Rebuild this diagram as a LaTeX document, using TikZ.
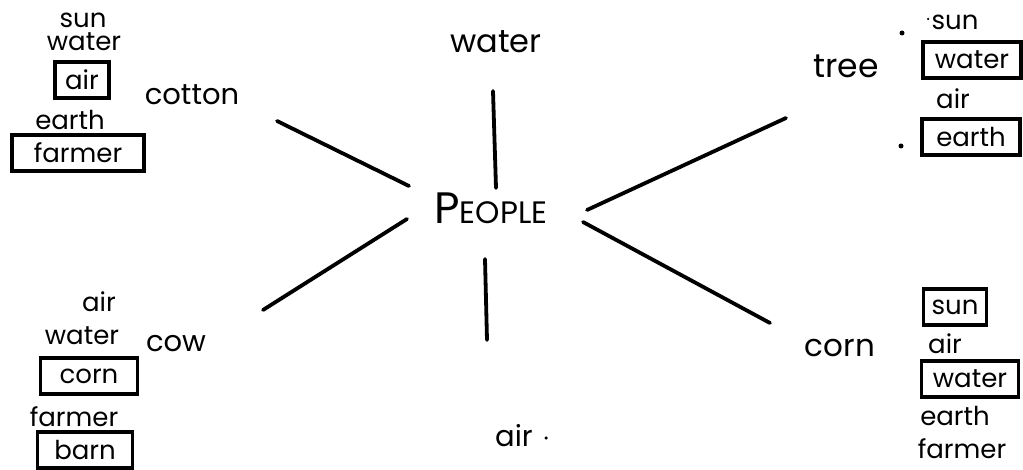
\documentclass[tikz,border=0pt]{standalone}
\usepackage{fontspec}
\setmainfont{Poppins}
\begin{document}
\begin{tikzpicture}[x=1pt,y=-1pt,
  big/.style={font=\fontsize{29}{29}\selectfont, inner sep=0pt},
  small/.style={font=\fontsize{26}{26}\selectfont, inner sep=0pt},
  boxed/.style={small, draw, line width=3.4pt, minimum height=36pt, inner xsep=4pt, text depth=0pt},
  spoke/.style={line width=3.8pt, line cap=round},
  dotmark/.style={circle, fill, inner sep=0pt, minimum size=5pt}]
\useasboundingbox (0,0) rectangle (1023,470);
% centre
\node[inner sep=0pt] (people) at (491,208) {{\fontsize{44}{44}\selectfont P}{\fontsize{31}{31}\selectfont EOPLE}};
\node[font=\fontsize{32}{32}\selectfont, inner sep=0pt] (water) at (496,42) {water};
\node[big] (air) at (514,436) {air};
\node[dotmark, minimum size=3.5pt] (airdot) at (546,438) {};
\node[big] (cotton) at (192,95) {cotton};
\node[font=\fontsize{33}{33}\selectfont, inner sep=0pt] (tree) at (846,66) {tree};
\node[big] (cow) at (176,344) {cow};
\node[font=\fontsize{31}{31}\selectfont, inner sep=0pt] (corn) at (840,348) {corn};
% spokes
\coordinate (w1) at (493,91); \coordinate (w2) at (496,188);
\coordinate (a1) at (485,259); \coordinate (a2) at (487,340);
\coordinate (c1) at (277,121); \coordinate (c2) at (409,186);
\coordinate (k1) at (407,219); \coordinate (k2) at (263,310);
\coordinate (t1) at (786,118); \coordinate (t2) at (587,210);
\coordinate (n1) at (583,222); \coordinate (n2) at (770,323);
\draw[spoke] (w1) -- (w2);
\draw[spoke] (a1) -- (a2);
\draw[spoke] (c1) -- (c2);
\draw[spoke] (k1) -- (k2);
\draw[spoke] (t1) -- (t2);
\draw[spoke] (n1) -- (n2);
% top left
\node[small] (tlsun) at (83,20) {sun};
\node[small] (tlwater) at (84,42) {water};
\node[boxed, minimum width=54pt] (tlair) at (82,80) {air};
\node[small] (tlearth) at (70,120) {earth};
\node[boxed, minimum width=132pt] (tlfarmer) at (78,153) {farmer};
% top right
\node[dotmark, minimum size=2.5pt] (trdot0) at (928,19) {};
\node[small] (trsun) at (955,22) {sun};
\node[dotmark] (trdot1) at (902,33) {};
\node[boxed, minimum width=98pt] (trwater) at (972,60) {water};
\node[small] (trair) at (953,99) {air};
\node[dotmark] (trdot2) at (901,146) {};
\node[boxed, minimum width=98pt] (trearth) at (971,137) {earth};
% bottom left
\node[small] (blair) at (99,302) {air};
\node[small] (blwater) at (82,336) {water};
\node[boxed, minimum width=97pt] (blcorn) at (89,376) {corn};
\node[small] (blfarmer) at (74,417) {farmer};
\node[boxed, minimum width=95pt] (blbarn) at (85,450) {barn};
% bottom right
\node[boxed, minimum width=63pt] (brsun) at (955,307) {sun};
\node[small] (brair) at (945,344) {air};
\node[boxed, minimum width=97pt] (brwater) at (970,379) {water};
\node[small] (brearth) at (955,416) {earth};
\node[small] (brfarmer) at (962,449) {farmer};
\end{tikzpicture}
\end{document}
